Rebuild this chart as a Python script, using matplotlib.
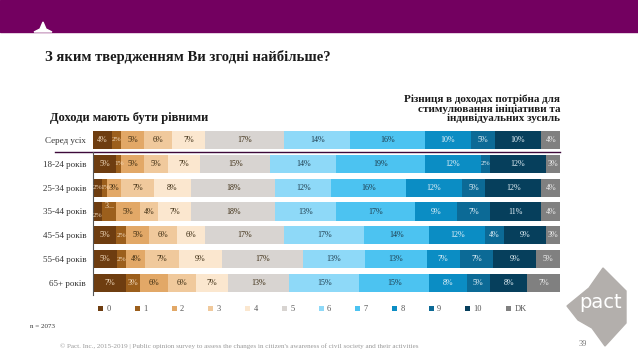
import matplotlib

matplotlib.use("Agg")
import matplotlib.pyplot as plt
from matplotlib.patches import Rectangle, Polygon
import numpy as np

plt.rcParams["font.family"] = ["Liberation Serif", "DejaVu Serif"]

# data
rows = ["Серед усіх", "18-24 років", "25-34 років", "35-44 років",
        "45-54 років", "55-64 років", "65+ років"]
scale = ["0", "1", "2", "3", "4", "5", "6", "7", "8", "9", "10", "DK"]
values = [
    [4, 2, 5, 6, 7, 17, 14, 16, 10, 5, 10, 4],
    [5, 1, 5, 5, 7, 15, 14, 19, 12, 2, 12, 3],
    [2, 1, 3, 7, 8, 18, 12, 16, 12, 5, 12, 4],
    [2, 3, 5, 4, 7, 18, 13, 17, 9, 7, 11, 4],
    [5, 2, 5, 6, 6, 17, 17, 14, 12, 4, 9, 3],
    [5, 2, 4, 7, 9, 17, 13, 13, 7, 7, 9, 5],
    [7, 3, 6, 6, 7, 13, 15, 15, 8, 5, 8, 7],
]
colors = ["#6e3d10", "#9c5f1c", "#e2a867", "#f0c99c", "#fbe7cf", "#d8d4d1",
          "#8ed9f8", "#4cc3f1", "#0b8dc4", "#0c6a96", "#063f5c", "#808080"]
text_colors = ["#f3dcc0", "#f3dcc0", "#3a2a10", "#3a2a10", "#3a2a10", "#3a2a10",
               "#1d3a4a", "#1d3a4a", "#e8f4fa", "#e8f4fa", "#e8f4fa", "#f2f2f2"]
# a few crowded labels are nudged up/down like in the original
nudge = {(3, 0): 0.17, (3, 1): -0.22}

fig = plt.figure(figsize=(6.38, 3.59), dpi=100)

# header band
fig.patches.append(Rectangle((0, 1 - 32 / 359), 1, 32 / 359, transform=fig.transFigure,
                             color="#730060", zorder=0))
fig.patches.append(Polygon([(34 / 638, 1 - 32 / 359), (40 / 638, 1 - 29 / 359),
                            (43 / 638, 1 - 22 / 359), (46 / 638, 1 - 29 / 359),
                            (52 / 638, 1 - 32 / 359)], closed=True,
                           transform=fig.transFigure, color="white", zorder=1))

fig.text(45 / 638, 1 - 57 / 359, "З яким твердженням Ви згодні найбільше?",
         fontsize=10.5, fontweight="bold", va="center", ha="left", color="#1a1a1a")

ax = fig.add_axes([93 / 638, 1 - 295 / 359, 467 / 638, 167 / 359])
y = np.arange(len(rows))
for i, row in enumerate(values):
    total = float(sum(row))
    left = 0.0
    for j, v in enumerate(row):
        w = v / total * 100
        ax.barh(i, w, left=left, height=0.76, color=colors[j], edgecolor="none",
                label=scale[j] if i == 0 else None)
        lab = "3..." if (i, j) == (3, 1) else f"{v}%"
        ax.text(left + w / 2, i + nudge.get((i, j), 0), lab, ha="center", va="center",
                fontsize=5.8 if v > 2 else 5.2, color=text_colors[j])
        left += w

ax.set_xlim(0, 100)
ax.set_ylim(len(rows) - 0.5, -0.5)
ax.set_yticks(y)
ax.set_yticklabels(rows, fontsize=6.5, color="#333333")
ax.tick_params(axis="y", length=0, pad=5)
ax.set_xticks([])
for s in ["top", "right", "bottom"]:
    ax.spines[s].set_visible(False)
ax.spines["left"].set_bounds(0.5, len(rows) - 0.5)
ax.spines["left"].set_color("#555555")
ax.spines["left"].set_linewidth(0.8)

# divider under the overall row
ax.plot([-0.081, 1], [1 - 1 / len(rows)] * 2, transform=ax.transAxes,
        color="#3d0a3a", lw=1.0, clip_on=False)

ax.text(-0.092, -0.9, "Доходи мають бути рівними", fontsize=9,
        fontweight="bold", ha="left", va="center", color="#1a1a1a",
        transform=ax.get_yaxis_transform())
ax.text(100, -1.3, "Різниця в доходах потрібна для\nстимулювання ініціативи та\nіндивідуальних зусиль",
        fontsize=8, fontweight="bold", ha="right", va="center", color="#1a1a1a",
        linespacing=1.0)

leg = ax.legend(loc="center", bbox_to_anchor=(0.47, -0.085), ncol=12, frameon=False,
                fontsize=6, handlelength=0.6, handleheight=0.6, handletextpad=0.4,
                columnspacing=2.9)
for t in leg.get_texts():
    t.set_color("#555555")

fig.text(30 / 638, 1 - 327 / 359, "n = 2073", fontsize=5, color="#333333", va="center")
fig.text(60 / 638, 1 - 346 / 359,
         "© Pact. Inc., 2015-2019 | Public opinion survey to assess the changes in citizen's "
         "awareness of civil society and their activities",
         fontsize=5.1, color="#9a9a9a", va="center")
fig.text(583 / 638, 1 - 344 / 359, "39", fontsize=6, color="#777777", va="center", ha="center",
         zorder=5)

# pact logo
logo = [(603, 268), (626, 291), (626, 323), (605, 346), (592, 328), (578, 320),
        (567, 306), (589, 288)]
fig.patches.append(Polygon([(x / 638, 1 - yy / 359) for x, yy in logo], closed=True,
                           transform=fig.transFigure, color="#b3afac", zorder=0))
fig.text(601 / 638, 1 - 302 / 359, "pact", fontsize=14, color="white", ha="center",
         va="center", family="DejaVu Sans")

fig.savefig("out.png", dpi=100)
